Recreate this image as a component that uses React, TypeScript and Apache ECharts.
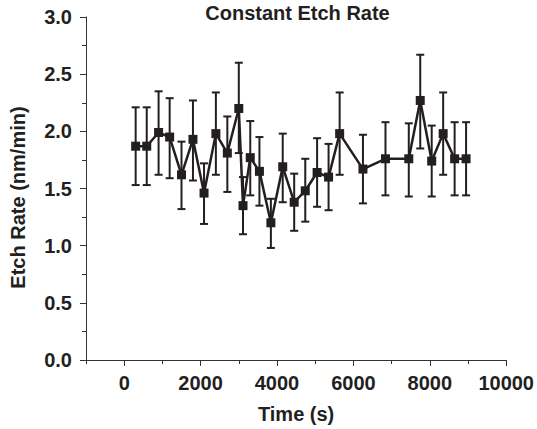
import React, { useEffect, useRef } from "react";
import * as echarts from "echarts";

const times = [300, 590, 900, 1190, 1500, 1800, 2090, 2400, 2700, 3000, 3110, 3300, 3540, 3840, 4150, 4450, 4740, 5050, 5350, 5640, 6250, 6840, 7450, 7750, 8050, 8350, 8650, 8950];
const rates = [1.87, 1.87, 1.99, 1.95, 1.62, 1.93, 1.46, 1.98, 1.81, 2.2, 1.35, 1.77, 1.65, 1.2, 1.69, 1.38, 1.48, 1.64, 1.6, 1.98, 1.67, 1.76, 1.76, 2.27, 1.74, 1.98, 1.76, 1.76];
const upper = [2.21, 2.21, 2.35, 2.29, 1.91, 2.27, 1.72, 2.34, 2.13, 2.6, 1.6, 2.09, 1.95, 1.41, 1.98, 1.63, 1.76, 1.94, 1.89, 2.34, 1.97, 2.08, 2.07, 2.67, 2.05, 2.34, 2.08, 2.08];
const lower = [1.53, 1.53, 1.62, 1.59, 1.32, 1.57, 1.19, 1.62, 1.47, 1.81, 1.1, 1.44, 1.35, 0.98, 1.38, 1.13, 1.21, 1.34, 1.31, 1.62, 1.37, 1.44, 1.43, 1.85, 1.43, 1.62, 1.44, 1.44];
const xMajorTicks = [0, 2000, 4000, 6000, 8000, 10000];
const xMinorTicks = [-1000, 1000, 3000, 5000, 7000, 9000];

const FONT = "Liberation Sans, Arial, sans-serif";
const INK = "#231f20";
const AXIS = "#333333";

export default function App() {
  const ref = useRef<HTMLDivElement>(null);
  useEffect(() => {
    if (!ref.current) return;
    const chart = echarts.init(ref.current, null, { renderer: "svg" });
    const lineData = times.map((t, i) => [t, rates[i]]);
    const errData = times.map((t, i) => [t, lower[i], upper[i]]);
    const grid = { left: 86, right: 28, top: 17, bottom: 69 };
    chart.setOption({
      animation: false,
      backgroundColor: "#ffffff",
      grid,
      graphic: [
        {
          type: "text",
          x: 297.5,
          y: 3,
          style: {
            text: "Constant Etch Rate",
            fontFamily: FONT,
            fontWeight: "bold",
            fontSize: 20,
            fill: INK,
            textAlign: "center",
            textVerticalAlign: "top",
          },
        },
      ],
      xAxis: [
        {
          type: "value",
          min: -1000,
          max: 10000,
          position: "bottom",
          name: "Time (s)",
          nameLocation: "middle",
          nameGap: 44,
          nameTextStyle: { fontFamily: FONT, fontWeight: "bold", fontSize: 20, color: INK },
          axisLine: { show: true, onZero: false, lineStyle: { color: AXIS, width: 1 } },
          axisTick: { show: true, length: 6, customValues: xMajorTicks, lineStyle: { color: AXIS, width: 1 } },
          axisLabel: {
            customValues: xMajorTicks,
            margin: 13,
            fontFamily: FONT,
            fontWeight: "bold",
            fontSize: 20,
            color: INK,
            formatter: (v: number) => String(v),
          },
          splitLine: { show: false },
        },
        {
          type: "value",
          min: -1000,
          max: 10000,
          position: "bottom",
          axisLine: { show: false, onZero: false },
          axisTick: { show: true, length: 4, customValues: xMinorTicks, lineStyle: { color: AXIS, width: 1 } },
          axisLabel: { show: false },
          splitLine: { show: false },
        },
      ],
      yAxis: {
        type: "value",
        min: 0,
        max: 3,
        interval: 0.5,
        name: "Etch Rate (nm/min)",
        nameLocation: "middle",
        nameGap: 58,
        nameRotate: 90,
        nameTextStyle: { fontFamily: FONT, fontWeight: "bold", fontSize: 20, color: INK, padding: [0, 18, 0, 0] },
        axisLine: { show: true, onZero: false, lineStyle: { color: AXIS, width: 1 } },
        axisTick: { show: true, length: 6, lineStyle: { color: AXIS, width: 1 } },
        minorTick: { show: true, splitNumber: 2, length: 4, lineStyle: { color: AXIS, width: 1 } },
        axisLabel: {
          margin: 14,
          fontFamily: FONT,
          fontWeight: "bold",
          fontSize: 20,
          color: INK,
          formatter: (v: number) => v.toFixed(1),
        },
        splitLine: { show: false },
      },
      series: [
        {
          type: "custom",
          xAxisIndex: 0,
          z: 1,
          encode: { x: 0, y: [1, 2] },
          data: errData,
          renderItem: (params: any, api: any) => {
            const x = api.value(0);
            const lo = api.coord([x, api.value(1)]);
            const hi = api.coord([x, api.value(2)]);
            const cap = 4;
            const style = { stroke: INK, lineWidth: 2 };
            return {
              type: "group",
              children: [
                { type: "line", shape: { x1: lo[0], y1: lo[1], x2: hi[0], y2: hi[1] }, style },
                { type: "line", shape: { x1: lo[0] - cap, y1: lo[1], x2: lo[0] + cap, y2: lo[1] }, style },
                { type: "line", shape: { x1: hi[0] - cap, y1: hi[1], x2: hi[0] + cap, y2: hi[1] }, style },
              ],
            };
          },
        },
        {
          type: "line",
          xAxisIndex: 0,
          z: 2,
          data: lineData,
          symbol: "rect",
          symbolSize: 9,
          lineStyle: { color: INK, width: 2.5 },
          itemStyle: { color: INK },
        },
      ],
    });
    return () => chart.dispose();
  }, []);
  return <div ref={ref} style={{ width: 537, height: 429, position: "absolute", left: 0, top: 0 }} />;
}
